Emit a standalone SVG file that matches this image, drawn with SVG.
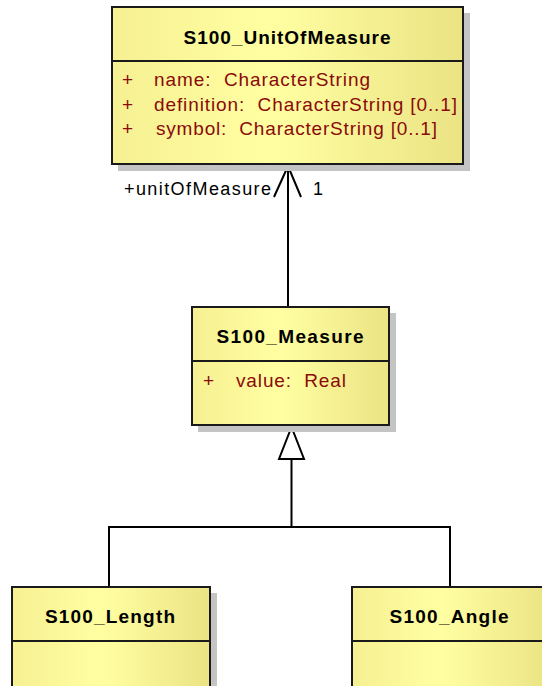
<svg xmlns="http://www.w3.org/2000/svg" width="542" height="686" viewBox="0 0 542 686">
<defs>
<linearGradient id="g" x1="0" y1="0" x2="1" y2="0">
<stop offset="0" stop-color="#F6F092"/>
<stop offset="0.45" stop-color="#FFFFA2"/>
<stop offset="1" stop-color="#EBE384"/>
</linearGradient>
</defs>
<style>
.sh{fill:#C4C4C4;stroke:none}
.bx{fill:url(#g);stroke:#1a1a1a;stroke-width:2}
.dv{stroke:#1a1a1a;stroke-width:2;fill:none}
text{white-space:pre}
.t{font-family:"Liberation Sans",Arial,sans-serif;font-weight:bold;font-size:19px;fill:#000;text-anchor:middle}
.a{font-family:"Liberation Sans",Arial,sans-serif;font-size:19px;fill:#8B0A0A}
.l{font-family:"Liberation Sans",Arial,sans-serif;font-size:18px;fill:#000}
.c{stroke:#000;stroke-width:2;fill:none}
.tri{stroke:#000;stroke-width:2;fill:#fff}
</style>
<g id="connectors">
<line class="c" x1="288" y1="165" x2="288" y2="307"/>
<polyline class="c" points="274,197 288,166 301,197"/>
<polyline class="c" points="109,587 109,527 450,527 450,587"/>
<line class="c" x1="291.5" y1="459" x2="291.5" y2="527"/>
<polygon class="tri" points="291.5,427 279,459 304,459"/>
<text class="l" x="124" y="195" textLength="147" lengthAdjust="spacing">+unitOfMeasure</text>
<text class="l" x="313" y="195">1</text>
</g>
<g id="S100_UnitOfMeasure">
<rect class="sh" x="118" y="13" width="352" height="158"/>
<rect class="bx" x="112" y="7" width="351" height="157"/>
<line class="dv" x1="112" y1="61" x2="463" y2="61"/>
<text class="t" x="287" y="44" textLength="207" lengthAdjust="spacing">S100_UnitOfMeasure</text>
<text class="a" x="122" y="86">+</text>
<text class="a" x="154" y="86" textLength="216" lengthAdjust="spacing">name:  CharacterString</text>
<text class="a" x="122" y="111">+</text>
<text class="a" x="154" y="111" textLength="303" lengthAdjust="spacing">definition:  CharacterString [0..1]</text>
<text class="a" x="122" y="135">+</text>
<text class="a" x="156" y="135" textLength="281" lengthAdjust="spacing">symbol:  CharacterString [0..1]</text>
</g>
<g id="S100_Measure">
<rect class="sh" x="198" y="313" width="198" height="119"/>
<rect class="bx" x="192" y="307" width="197" height="118"/>
<line class="dv" x1="192" y1="361" x2="389" y2="361"/>
<text class="t" x="290" y="343" textLength="147" lengthAdjust="spacing">S100_Measure</text>
<text class="a" x="203" y="387">+</text>
<text class="a" x="236" y="387" textLength="110" lengthAdjust="spacing">value:  Real</text>
</g>
<g id="S100_Length">
<rect class="sh" x="18" y="593" width="199" height="100"/>
<rect class="bx" x="12" y="587" width="198" height="105"/>
<line class="dv" x1="12" y1="641" x2="210" y2="641"/>
<text class="t" x="110" y="623" textLength="130" lengthAdjust="spacing">S100_Length</text>
</g>
<g id="S100_Angle">
<rect class="sh" x="358" y="593" width="199" height="100"/>
<rect class="bx" x="352" y="587" width="198" height="105"/>
<line class="dv" x1="352" y1="641" x2="550" y2="641"/>
<text class="t" x="449" y="623" textLength="119" lengthAdjust="spacing">S100_Angle</text>
</g>
</svg>
